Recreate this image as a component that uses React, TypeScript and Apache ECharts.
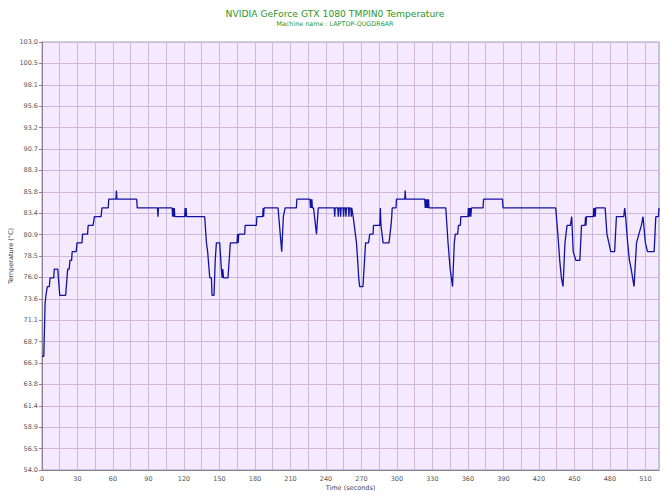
import React, { useEffect, useRef } from "react";
import * as echarts from "echarts";

const TITLE = "NVIDIA GeForce GTX 1080 TMPIN0 Temperature";
const SUBTITLE = "Machine name : LAPTOP-QUGDR6AR";
const X_NAME = "Time (seconds)";
const Y_NAME = "Temperature (°C)";

const Y_TICKS = [
  "54.0", "56.5", "58.9", "61.4", "63.8", "66.3", "68.7", "71.1", "73.6", "76.0", "78.5",
  "80.9", "83.4", "85.8", "88.3", "90.7", "93.2", "95.6", "98.1", "100.5", "103.0",
];

const TIME = [
  0, 1.5, 2.6, 3.3, 4.5, 6.2, 6.8, 9.9, 10.4, 13.3, 15, 20, 21.7, 23, 23.6, 25, 25.5, 28.9, 29.6, 33.8,
  34.3, 38.5, 39, 43.2, 44.3, 49.9, 50.7, 56, 56.4, 62.5, 62.9, 63.3, 80, 80.5, 97.6, 98, 98.4, 110,
  110.4, 110.8, 111.3, 111.8, 112.3, 120.6, 121, 121.4, 121.8, 122.2, 137.5, 139, 140, 141.8, 143.2,
  143.7, 145.4, 146.4, 147.4, 150.2, 151.6, 152.2, 152.8, 153.4, 157.2, 159.2, 164.8, 165.3, 165.8,
  166.3, 171.3, 171.7, 181.2, 181.6, 186.5, 186.9, 187.3, 187.7, 199.5, 202.6, 204, 205.5, 215, 215.4,
  226.5, 226.9, 227.3, 227.7, 228.1, 228.5, 229.5, 232, 233.5, 247, 247.4, 247.8, 250, 250.4, 250.8,
  252, 252.4, 252.8, 254.5, 254.9, 255.3, 256.5, 256.9, 257.3, 259, 259.4, 259.8, 261, 261.4, 261.8,
  263, 265.8, 266.8, 267.7, 268.5, 271.3, 273.5, 276, 277, 279.8, 280.2, 285.5, 286, 286.5, 288.3,
  293.3, 295, 295.6, 296, 299.2, 299.6, 306.6, 307, 307.4, 323.5, 323.9, 324.3, 324.7, 325.1, 325.5,
  325.9, 326.3, 326.7, 327.1, 341.3, 343.2, 345, 347, 348.5, 349.3, 351.3, 352, 353.6, 354, 360,
  360.4, 360.8, 361.2, 361.6, 362, 362.4, 363, 372.8, 373.2, 389.2, 389.7, 434.2, 436, 437.6, 439,
  440.4, 442, 443.8, 446.6, 447.7, 449, 451.2, 454.6, 456, 459, 459.4, 459.8, 460.2, 466, 466.4,
  466.8, 467.2, 467.6, 468, 476, 477.5, 480.7, 484, 485.5, 491.7, 492.5, 493.3, 495, 496.5, 498,
  500.4, 502.5, 504.5, 506.6, 508, 510, 511.8, 517.4, 518.8, 521, 521.5,
];

const TEMP = [
  67, 67, 73, 74, 75, 75, 76, 76, 77, 77, 74, 74, 77, 77, 78, 78, 79, 79, 80, 80,
  81, 81, 82, 82, 83, 83, 84, 84, 85, 85, 86, 85, 85, 84, 84, 83, 84, 84,
  83, 84, 83, 84, 83, 83, 84, 83, 84, 83, 83, 80, 79, 76, 76,
  74, 74, 78, 80, 80, 77, 76, 77, 76, 76, 80, 80, 81, 80,
  81, 81, 82, 82, 83, 83, 84, 83, 84, 84, 79, 83, 84, 84, 85,
  85, 84, 85, 84, 85, 84, 84, 81, 84, 84, 83, 84, 84, 83, 84,
  84, 83, 84, 84, 83, 84, 84, 83, 84, 84, 83, 84, 84, 83, 84,
  83, 80, 78, 76, 75, 75, 80, 80, 81, 81, 82, 82, 84, 82, 80,
  80, 82, 83, 84, 84, 85, 85, 86, 85, 85, 84, 85, 84, 85, 84,
  85, 84, 85, 84, 84, 80, 77, 75, 80, 81, 81, 82, 82, 83, 83,
  84, 83, 84, 83, 84, 83, 84, 84, 85, 85, 84, 84, 81, 78, 76,
  75, 80, 82, 82, 83, 79, 78, 78, 82, 82, 83, 82, 83, 83, 84,
  83, 84, 83, 84, 84, 81, 79, 79, 83, 83, 84, 83, 80, 78, 77,
  75, 80, 81, 82, 83, 80, 79, 79, 83, 83, 84,
];

const X_MIN = 0;
const X_MAX = 521.5;
const X_STEP = 15;
const Y_MIN = 54;
const Y_MAX = 103;

export default function App() {
  const ref = useRef<HTMLDivElement>(null);
  useEffect(() => {
    if (!ref.current) return;
    const chart = echarts.init(ref.current, undefined, { renderer: "svg" });
    const font = "DejaVu Sans";
    const data = TIME.map((t, i) => [t, TEMP[i]]);
    chart.setOption({
      animation: false,
      backgroundColor: "#ffffff",
      title: {
        text: TITLE,
        subtext: SUBTITLE,
        left: "center",
        top: 4,
        itemGap: 3,
        textStyle: { fontSize: 9.2, color: "#2c962c", fontWeight: "normal", fontFamily: font },
        subtextStyle: { fontSize: 6.4, color: "#2c962c", fontFamily: font },
      },
      grid: {
        left: 42,
        right: 11,
        top: 42,
        bottom: 32,
        containLabel: false,
        outerBoundsMode: "none",
        show: true,
        backgroundColor: "#f5eafd",
        borderColor: "#a99bb8",
        borderWidth: 1,
      },
      xAxis: {
        type: "value",
        min: X_MIN,
        max: X_MAX,
        interval: X_STEP,
        name: X_NAME,
        nameLocation: "middle",
        nameGap: 14,
        nameMoveOverlap: false,
        nameTextStyle: { fontSize: 6.5, color: "#444", fontFamily: font },
        axisLine: { show: true, lineStyle: { color: "#8a7f96", width: 1 } },
        axisTick: { show: false },
        axisLabel: {
          fontSize: 6.5,
          color: "#555",
          fontFamily: font,
          margin: 5,
          showMaxLabel: false,
          formatter: (v: number) => (v % 30 === 0 ? String(v) : ""),
        },
        splitLine: { show: true, lineStyle: { color: "#cbb8dc", width: 1 } },
      },
      yAxis: [
        {
          type: "value",
          min: Y_MIN,
          max: Y_MAX,
          show: false,
          splitLine: { show: false },
        },
        {
          type: "value",
          min: 0,
          max: Y_TICKS.length - 1,
          interval: 1,
          position: "left",
          name: Y_NAME,
          nameLocation: "middle",
          nameGap: 28,
          nameMoveOverlap: false,
          nameTruncate: { maxWidth: 200 },
          nameTextStyle: { fontSize: 6.5, color: "#444", fontFamily: font },
          axisLine: { show: true, lineStyle: { color: "#8a7f96", width: 1 } },
          axisTick: { show: true, length: 3, lineStyle: { color: "#8a7f96" } },
          axisLabel: {
            fontSize: 6.5,
            color: "#555",
            fontFamily: font,
            margin: 4,
            formatter: (v: number) => Y_TICKS[Math.round(v)] ?? "",
          },
          splitLine: { show: true, lineStyle: { color: "#cbb8dc", width: 1 } },
        },
      ],
      series: [
        {
          type: "line",
          yAxisIndex: 0,
          data,
          showSymbol: false,
          symbol: "none",
          lineStyle: { color: "#1212a0", width: 1.3 },
        },
      ],
    });
    return () => chart.dispose();
  }, []);
  return <div ref={ref} style={{ width: 670, height: 502, margin: -8 }} />;
}
